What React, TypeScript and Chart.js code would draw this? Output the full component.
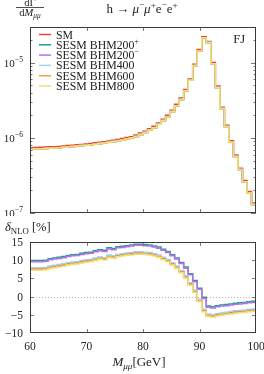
import React, { useEffect, useRef } from 'react';
import { Chart, registerables } from 'chart.js';
Chart.register(...registerables);

const FONT = '"Liberation Serif", "DejaVu Serif", "Times New Roman", serif';
const FRAME = '#3a3a3a';
const TICK = '#7a7a7a';

// bin edges (GeV), 0.8 GeV bins
const binEdges = [60, 60.8, 61.6, 62.4, 63.2, 64, 64.8, 65.6, 66.4, 67.2, 68, 68.8, 69.6, 70.4, 71.2, 72, 72.8, 73.6, 74.4, 75.2, 76, 76.8, 77.6, 78.4, 79.2, 80, 80.8, 81.6, 82.4, 83.2, 84, 84.8, 85.6, 86.4, 87.2, 88, 88.8, 89.6, 90.4, 91.2, 92, 92.8, 93.6, 94.4, 95.2, 96, 96.8, 97.6, 98.4, 99.2, 100];

const seriesNames = ['SM', 'SESM BHM200', 'SESM BHM200', 'SESM BHM400', 'SESM BHM600', 'SESM BHM800'];
const seriesSup = ['', '+', '\u2212', '', '', ''];
const seriesColors = ['#f0413a', '#17a683', '#bb6cf0', '#9fd3f0', '#f5a03a', '#efe07a'];

// dGamma/dM (units of 1e-6)
const dGammaSM = [0.74, 0.745, 0.75, 0.755, 0.76, 0.765, 0.77, 0.78, 0.79, 0.80, 0.81, 0.82, 0.83, 0.845, 0.86, 0.875, 0.89, 0.91, 0.93, 0.955, 0.98, 1.01, 1.04, 1.09, 1.16, 1.23, 1.32, 1.43, 1.585, 1.77, 2.0, 2.33, 2.8, 3.4, 4.43, 6.1, 9.6, 15.0, 22.3, 19.3, 10.1, 4.9, 2.56, 1.48, 0.92, 0.59, 0.395, 0.27, 0.193, 0.136];
const dGammaBHM = [0.71, 0.715, 0.72, 0.725, 0.73, 0.735, 0.74, 0.75, 0.76, 0.77, 0.78, 0.79, 0.80, 0.81, 0.825, 0.84, 0.855, 0.875, 0.895, 0.915, 0.94, 0.97, 1.0, 1.045, 1.11, 1.18, 1.27, 1.37, 1.52, 1.70, 1.92, 2.24, 2.69, 3.26, 4.25, 5.86, 9.2, 14.4, 21.5, 18.6, 9.7, 4.7, 2.46, 1.42, 0.88, 0.565, 0.38, 0.26, 0.185, 0.13];

// delta_NLO [%]
const deltaSM = [7.6, 7.6, 7.6, 7.7, 8.1, 8.3, 8.5, 8.7, 9.0, 9.2, 9.3, 9.6, 9.8, 9.9, 10.3, 10.6, 10.4, 11.1, 10.9, 11.3, 11.5, 11.7, 11.8, 12.0, 12.0, 11.9, 11.8, 11.5, 11.1, 10.5, 9.9, 9.0, 8.1, 6.9, 5.4, 3.5, 1.5, -1.0, -3.8, -5.1, -5.3, -5.0, -4.8, -4.6, -4.4, -4.2, -4.1, -4.0, -3.8, -3.7];
const deltaBHM200p = [9.9, 9.9, 9.9, 10.0, 10.4, 10.6, 10.8, 11.0, 11.3, 11.5, 11.6, 11.9, 12.1, 12.2, 12.6, 12.9, 12.7, 13.4, 13.2, 13.7, 13.8, 14.0, 14.2, 14.4, 14.4, 14.3, 14.2, 13.9, 13.6, 13.0, 12.4, 11.5, 10.6, 9.4, 8.1, 6.3, 4.4, 2.3, -0.2, -2.6, -2.8, -2.5, -2.3, -2.2, -2.0, -1.8, -1.7, -1.6, -1.4, -1.3];
const deltaBHM200m = [9.6, 9.6, 9.6, 9.7, 10.1, 10.3, 10.5, 10.7, 11.0, 11.2, 11.3, 11.6, 11.8, 11.9, 12.3, 12.6, 12.4, 13.1, 12.9, 13.4, 13.5, 13.7, 13.9, 14.1, 14.1, 14.0, 13.9, 13.6, 13.3, 12.7, 12.1, 11.2, 10.3, 9.1, 7.8, 6.0, 4.1, 2.0, -0.5, -2.9, -3.1, -2.8, -2.6, -2.5, -2.3, -2.1, -2.0, -1.9, -1.7, -1.6];
const deltaBHM400 = [7.9, 7.9, 7.9, 8.0, 8.4, 8.6, 8.8, 9.0, 9.3, 9.5, 9.6, 9.9, 10.1, 10.2, 10.6, 10.9, 10.7, 11.4, 11.2, 11.6, 11.8, 12.0, 12.1, 12.3, 12.3, 12.2, 12.1, 11.8, 11.4, 10.8, 10.2, 9.3, 8.4, 7.2, 5.7, 3.8, 1.8, -0.7, -3.5, -4.8, -5.0, -4.7, -4.5, -4.3, -4.1, -3.9, -3.8, -3.7, -3.5, -3.4];
const deltaBHM600 = [7.45, 7.45, 7.45, 7.55, 7.95, 8.15, 8.35, 8.55, 8.85, 9.05, 9.15, 9.45, 9.65, 9.75, 10.15, 10.45, 10.25, 10.95, 10.75, 11.15, 11.35, 11.55, 11.65, 11.85, 11.85, 11.75, 11.65, 11.35, 10.95, 10.35, 9.75, 8.85, 7.95, 6.75, 5.25, 3.35, 1.35, -1.15, -3.95, -5.25, -5.45, -5.15, -4.95, -4.75, -4.55, -4.35, -4.25, -4.15, -3.95, -3.85];
const deltaBHM800 = [7.25, 7.25, 7.25, 7.35, 7.75, 7.95, 8.15, 8.35, 8.65, 8.85, 8.95, 9.25, 9.45, 9.55, 9.95, 10.25, 10.05, 10.75, 10.55, 10.95, 11.15, 11.35, 11.45, 11.65, 11.65, 11.55, 11.45, 11.15, 10.75, 10.15, 9.55, 8.65, 7.75, 6.55, 5.05, 3.15, 1.15, -1.35, -4.15, -5.45, -5.65, -5.35, -5.15, -4.95, -4.75, -4.55, -4.45, -4.35, -4.15, -4.05];

const xTicks = [60, 70, 80, 90, 100];
const yTopDecades = [1e-7, 1e-6, 1e-5];
const yTopDecadeLabels = ['\u22127', '\u22126', '\u22125'];
const yBottomTicks = [-10, -5, 0, 5, 10, 15];

type Part = { t: string; s?: 'sub' | 'sup'; i?: boolean };

function drawRich(ctx: CanvasRenderingContext2D, parts: Part[], x: number, y: number, size: number, align: 'left' | 'center' | 'right') {
  const fontFor = (p: Part) => `${p.i ? 'italic ' : ''}${p.s ? size * 0.7 : size}px ${FONT}`;
  let total = 0;
  const widths = parts.map((p) => {
    ctx.font = fontFor(p);
    const w = ctx.measureText(p.t).width;
    total += w;
    return w;
  });
  let cx = align === 'left' ? x : align === 'center' ? x - total / 2 : x - total;
  ctx.textAlign = 'left';
  ctx.textBaseline = 'alphabetic';
  parts.forEach((p, k) => {
    ctx.font = fontFor(p);
    const dy = p.s === 'sub' ? size * 0.25 : p.s === 'sup' ? -size * 0.42 : 0;
    ctx.fillText(p.t, cx, y + dy);
    cx += widths[k];
  });
}

function line(ctx: CanvasRenderingContext2D, x1: number, y1: number, x2: number, y2: number) {
  ctx.beginPath();
  ctx.moveTo(x1, y1);
  ctx.lineTo(x2, y2);
  ctx.stroke();
}

function histPoints(vals: number[], scale = 1) {
  const pts = vals.map((v, k) => ({ x: binEdges[k], y: v * scale }));
  pts.push({ x: binEdges[binEdges.length - 1], y: vals[vals.length - 1] * scale });
  return pts;
}

function makeDatasets(arrays: number[][], scale = 1) {
  return arrays.map((arr, k) => ({
    label: seriesNames[k] + seriesSup[k],
    data: histPoints(arr, scale),
    borderColor: seriesColors[k],
    backgroundColor: seriesColors[k],
    borderWidth: 1.5,
    pointRadius: 0,
    stepped: 'before' as const,
    fill: false,
    order: arrays.length - 1 - k,
  }));
}

const topPlugin = {
  id: 'topDeco',
  afterDatasetsDraw(chart: any) {
    const { ctx, chartArea: a, scales } = chart;
    const xs = scales.x;
    const ys = scales.y;
    ctx.save();
    ctx.lineWidth = 1;
    ctx.strokeStyle = TICK;
    xTicks.forEach((v) => {
      if (v === xs.min || v === xs.max) return;
      const px = Math.round(xs.getPixelForValue(v)) + 0.5;
      line(ctx, px, a.top, px, a.top + 4);
      line(ctx, px, a.bottom, px, a.bottom - 4);
    });
    yTopDecades.forEach((d) => {
      for (let m = 1; m <= 9; m++) {
        const v = d * m;
        if (v < ys.min || v > ys.max * 1.0001) continue;
        const py = Math.round(ys.getPixelForValue(v)) + 0.5;
        const len = m === 1 ? 5 : 2.5;
        line(ctx, a.left, py, a.left + len, py);
        line(ctx, a.right, py, a.right - len, py);
      }
    });
    ctx.strokeStyle = FRAME;
    ctx.strokeRect(Math.round(a.left) + 0.5, Math.round(a.top) + 0.5, Math.round(a.right - a.left) - 1, Math.round(a.bottom - a.top) - 1);

    ctx.fillStyle = '#222';
    yTopDecades.forEach((d, k) => {
      const py = ys.getPixelForValue(d);
      drawRich(ctx, [{ t: '10' }, { t: yTopDecadeLabels[k], s: 'sup' }], 23, py + 4, 11, 'right');
    });

    // legend
    seriesNames.forEach((name, k) => {
      const yy = 34.5 + k * 10.3;
      ctx.strokeStyle = seriesColors[k];
      ctx.lineWidth = 1.5;
      line(ctx, 39, yy, 51, yy);
      const parts: Part[] = [{ t: name }];
      if (seriesSup[k]) parts.push({ t: seriesSup[k], s: 'sup' });
      ctx.fillStyle = '#222';
      drawRich(ctx, parts, 56, yy + 4, 11.8, 'left');
    });

    // titles
    ctx.fillStyle = '#222';
    drawRich(ctx, [{ t: 'FJ' }], 245, 43, 12.5, 'right');
    drawRich(ctx, [{ t: 'h \u2192 ' }, { t: '\u03bc', i: true }, { t: '\u2212', s: 'sup' }, { t: '\u03bc', i: true }, { t: '+', s: 'sup' }, { t: 'e' }, { t: '\u2212', s: 'sup' }, { t: 'e' }, { t: '+', s: 'sup' }], 142, 13, 13, 'center');
    drawRich(ctx, [{ t: 'd\u0393' }], 30, 5.5, 10.5, 'center');
    ctx.strokeStyle = '#222';
    ctx.lineWidth = 0.8;
    line(ctx, 16, 7.5, 44, 7.5);
    drawRich(ctx, [{ t: 'd' }, { t: 'M', i: true }, { t: '\u03bc\u03bc', s: 'sub', i: true }], 30, 15.5, 10.5, 'center');
    ctx.restore();
  },
};

const bottomPlugin = {
  id: 'bottomDeco',
  beforeDatasetsDraw(chart: any) {
    const { ctx, chartArea: a, scales } = chart;
    const py = Math.round(scales.y.getPixelForValue(0)) + 0.5;
    ctx.save();
    ctx.strokeStyle = '#b0b0b0';
    ctx.lineWidth = 1;
    ctx.setLineDash([1, 2]);
    line(ctx, a.left, py, a.right, py);
    ctx.restore();
  },
  afterDatasetsDraw(chart: any) {
    const { ctx, chartArea: a, scales } = chart;
    const xs = scales.x;
    const ys = scales.y;
    ctx.save();
    ctx.lineWidth = 1;
    ctx.strokeStyle = TICK;
    xTicks.forEach((v) => {
      if (v === xs.min || v === xs.max) return;
      const px = Math.round(xs.getPixelForValue(v)) + 0.5;
      line(ctx, px, a.top, px, a.top + 4);
      line(ctx, px, a.bottom, px, a.bottom - 4);
    });
    yBottomTicks.forEach((v) => {
      if (v === ys.min || v === ys.max) return;
      const py = Math.round(ys.getPixelForValue(v)) + 0.5;
      line(ctx, a.left, py, a.left + 4, py);
      line(ctx, a.right, py, a.right - 4, py);
    });
    ctx.strokeStyle = FRAME;
    ctx.strokeRect(Math.round(a.left) + 0.5, Math.round(a.top) + 0.5, Math.round(a.right - a.left) - 1, Math.round(a.bottom - a.top) - 1);

    ctx.fillStyle = '#222';
    yBottomTicks.forEach((v) => {
      const py = ys.getPixelForValue(v);
      const txt = v < 0 ? '\u2212' + Math.abs(v) : String(v);
      drawRich(ctx, [{ t: txt }], 23, py + 4, 11.5, 'right');
    });
    xTicks.forEach((v) => {
      const px = xs.getPixelForValue(v);
      drawRich(ctx, [{ t: String(v) }], px, a.bottom + 17, 11.5, 'center');
    });
    drawRich(ctx, [{ t: '\u03b4', i: true }, { t: 'NLO', s: 'sub' }, { t: ' [%]' }], 5, 15, 12.5, 'left');
    drawRich(ctx, [{ t: 'M', i: true }, { t: '\u03bc\u03bc', s: 'sub', i: true }, { t: '[GeV]' }], 139, 150, 13, 'center');
    ctx.restore();
  },
};

export default function App() {
  const topRef = useRef<HTMLCanvasElement>(null);
  const botRef = useRef<HTMLCanvasElement>(null);

  useEffect(() => {
    if (!topRef.current || !botRef.current) return;
    const topChart = new Chart(topRef.current, {
      type: 'line',
      data: {
        datasets: makeDatasets([dGammaSM, dGammaBHM, dGammaBHM, dGammaBHM, dGammaBHM, dGammaBHM], 1e-6) as any,
      },
      options: {
        animation: false,
        responsive: false,
        maintainAspectRatio: false,
        layout: { padding: { left: 30, right: 8, top: 27, bottom: 3 } },
        plugins: { legend: { display: false }, tooltip: { enabled: false } },
        events: [],
        scales: {
          x: { type: 'linear', min: 60, max: 100, display: false },
          y: { type: 'logarithmic', min: 1e-7, max: 3e-5, display: false },
        },
      },
      plugins: [topPlugin],
    });
    const botChart = new Chart(botRef.current, {
      type: 'line',
      data: {
        datasets: makeDatasets([deltaSM, deltaBHM200p, deltaBHM200m, deltaBHM400, deltaBHM600, deltaBHM800]) as any,
      },
      options: {
        animation: false,
        responsive: false,
        maintainAspectRatio: false,
        layout: { padding: { left: 30, right: 8, top: 26, bottom: 41 } },
        plugins: { legend: { display: false }, tooltip: { enabled: false } },
        events: [],
        scales: {
          x: { type: 'linear', min: 60, max: 100, display: false },
          y: { type: 'linear', min: -10, max: 15, display: false },
        },
      },
      plugins: [bottomPlugin],
    });
    return () => {
      topChart.destroy();
      botChart.destroy();
    };
  }, []);

  return (
    <div style={{ position: 'fixed', left: 0, top: 0, width: 264, height: 374, background: '#fff' }}>
      <canvas ref={topRef} width={264} height={216} style={{ position: 'absolute', left: 0, top: 0, width: 264, height: 216 }} />
      <canvas ref={botRef} width={264} height={158} style={{ position: 'absolute', left: 0, top: 216, width: 264, height: 158 }} />
    </div>
  );
}
